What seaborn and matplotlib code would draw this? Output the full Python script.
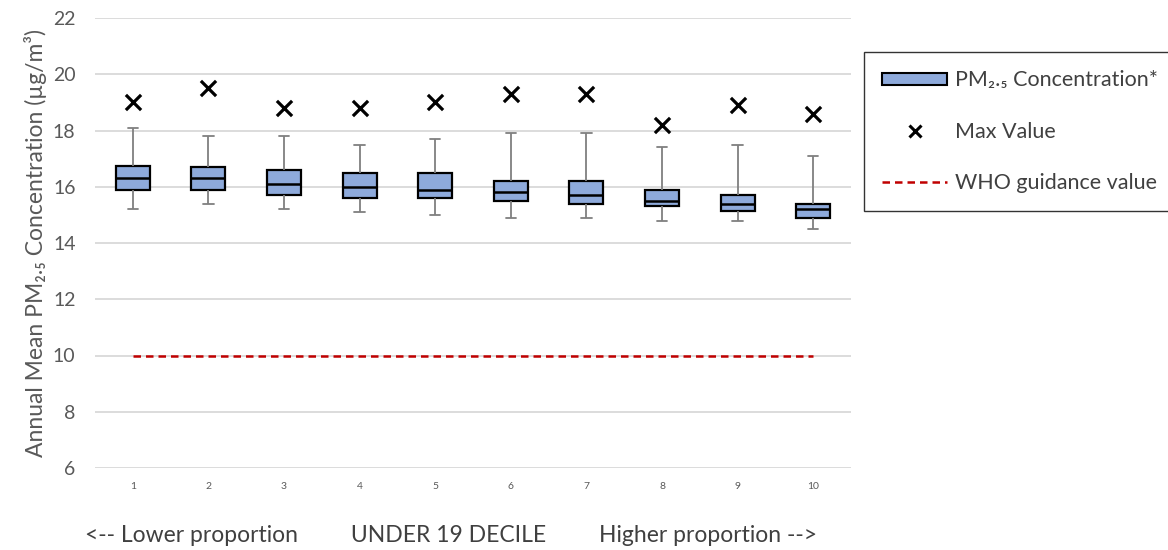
import numpy as np
import pandas as pd
import matplotlib
matplotlib.use("Agg")
import matplotlib.pyplot as plt
from matplotlib.patches import Patch
from matplotlib.lines import Line2D
import seaborn as sns

# ---------- DATA ----------
deciles = ["1", "2", "3", "4", "5", "6", "7", "8", "9", "10"]
whisker_low = [15.2, 15.4, 15.2, 15.1, 15.0, 14.9, 14.9, 14.8, 14.8, 14.5]
q1 = [15.9, 15.9, 15.7, 15.6, 15.6, 15.5, 15.4, 15.3, 15.15, 14.9]
median = [16.3, 16.3, 16.1, 16.0, 15.9, 15.8, 15.7, 15.5, 15.4, 15.2]
q3 = [16.75, 16.7, 16.6, 16.5, 16.5, 16.2, 16.2, 15.9, 15.7, 15.4]
whisker_high = [18.1, 17.8, 17.8, 17.5, 17.7, 17.9, 17.9, 17.4, 17.5, 17.1]
max_value = [19.0, 19.5, 18.8, 18.8, 19.0, 19.3, 19.3, 18.2, 18.9, 18.6]
who_value = 10

# five-number rows per decile -> long table for seaborn
rows = []
for i, d in enumerate(deciles):
    for v in (whisker_low[i], q1[i], median[i], q3[i], whisker_high[i]):
        rows.append({"decile": d, "pm25": v})
df = pd.DataFrame(rows)
df_max = pd.DataFrame({"decile": deciles, "max": max_value})
df_who = pd.DataFrame({"decile": deciles, "who": [who_value] * len(deciles)})

# ---------- STYLE ----------
sns.set_style("white")
plt.rcParams["font.family"] = ["Lato", "DejaVu Sans"]

BOX_BLUE = "#8eaadb"
GREY_TXT = "#595959"
WHO_RED = "#c00000"

fig = plt.figure(figsize=(11.68, 5.5), dpi=100)
ax = fig.add_axes([95 / 1168, 1 - 468 / 550, 756 / 1168, 450 / 550])

sns.boxplot(
    data=df, x="decile", y="pm25", order=deciles,
    whis=(0, 100), width=0.45, color=BOX_BLUE, saturation=1,
    linecolor="black", linewidth=1.6, showfliers=False,
    capwidths=0.14,
    whiskerprops={"color": "#7f7f7f", "linewidth": 1.3},
    capprops={"color": "#7f7f7f", "linewidth": 1.3},
    medianprops={"color": "black", "linewidth": 1.8},
    ax=ax,
)
sns.scatterplot(
    data=df_max, x="decile", y="max", marker="x", s=120,
    color="black", linewidth=2.3, ax=ax, zorder=5,
)
sns.lineplot(
    data=df_who, x="decile", y="who", color=WHO_RED,
    linestyle=(0, (3, 2)), linewidth=1.8, ax=ax,
)

ax.set_ylim(6, 22)
ax.set_xlim(-0.5, 9.5)
ax.set_yticks(range(6, 23, 2))
ax.yaxis.grid(True, color="#d9d9d9", linewidth=1.3)
ax.set_axisbelow(True)
sns.despine(ax=ax, left=True, bottom=True)
ax.tick_params(axis="both", length=0)
ax.tick_params(axis="y", labelsize=14, labelcolor=GREY_TXT, pad=14)
ax.tick_params(axis="x", labelsize=7.5, labelcolor=GREY_TXT, pad=10)
ax.set_xlabel("")
ax.set_ylabel("Annual Mean PM₂.₅ Concentration (µg/m³)",
              fontsize=16.5, color=GREY_TXT, labelpad=4)

fig.text(85 / 1168, 1 - 535 / 550,
         "<-- Lower proportion         UNDER 19 DECILE         Higher proportion -->",
         fontsize=16.5, color="#404040", ha="left", va="center")

handles = [
    Patch(facecolor=BOX_BLUE, edgecolor="black", linewidth=1.5),
    Line2D([], [], marker="x", color="black", linestyle="none",
           markersize=8, markeredgewidth=2.2),
    Line2D([], [], color=WHO_RED, linestyle=(0, (3, 2)), linewidth=1.8),
]
labels = ["PM₂.₅ Concentration*", "Max Value", "WHO guidance value"]
leg = fig.legend(
    handles, labels, loc="upper left",
    bbox_to_anchor=(864 / 1168, 1 - 52 / 550),
    fontsize=15.5, frameon=True, fancybox=False, edgecolor="black",
    handlelength=3.0, handleheight=0.5, handletextpad=0.4, labelspacing=1.45,
    borderpad=0.85, borderaxespad=0,
)
leg.get_frame().set_linewidth(1.0)
for t in leg.get_texts():
    t.set_color("#404040")

fig.savefig("out.png", dpi=100)
